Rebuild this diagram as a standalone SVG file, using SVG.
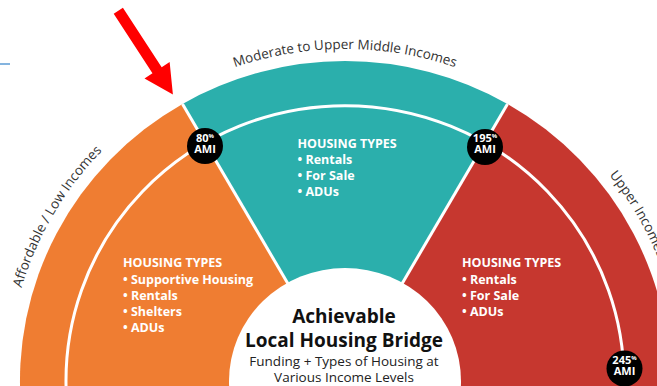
<svg xmlns="http://www.w3.org/2000/svg" width="657" height="386" viewBox="0 0 657 386">
<style>
.lbl{font-family:"Open Sans","Liberation Sans",sans-serif;font-size:13.5px;fill:#333}
.ht{font-family:"Open Sans","Liberation Sans",sans-serif;font-weight:bold;font-size:12.5px;fill:#fff}
.bt{font-family:"Open Sans","Liberation Sans",sans-serif;font-weight:bold;font-size:11px;fill:#fff;text-anchor:middle}
.sup{font-size:6px}
.sep{stroke:#fff;stroke-width:3;fill:none}
.title{font-family:"Open Sans","Liberation Sans",sans-serif;font-weight:bold;font-size:19px;fill:#111;text-anchor:middle}
.sub{font-family:"Open Sans","Liberation Sans",sans-serif;font-size:13.5px;fill:#222;text-anchor:middle}
</style>
<defs>
<path id="arcL" d="M8,381 A337,332 0 0 1 176.5,93.5"/>
<path id="arcM" d="M176.5,93.5 A337,332 0 0 1 513.5,93.5"/>
<path id="arcR" d="M513.5,93.5 A337,332 0 0 1 682,381"/>
</defs>
<rect width="657" height="386" fill="#fff"/>
<line x1="0" y1="64" x2="10" y2="64" stroke="#5b9bd5" stroke-width="1.5"/>
<g id="segment-low">
<path d="M345,381 L21.2,408.9 A325,320 0 0 1 182.5,103.9 Z" fill="#ef7d32"/>
</g>
<g id="segment-moderate">
<path d="M345,381 L182.5,103.9 A325,320 0 0 1 507.5,103.9 Z" fill="#2bafac"/>
</g>
<g id="segment-upper">
<path d="M345,381 L507.5,103.9 A325,320 0 0 1 668.8,408.9 Z" fill="#c6372f"/>
</g>
<g id="connectors">
<line class="sep" x1="345" y1="381" x2="182.5" y2="103.9"/>
<line class="sep" x1="345" y1="381" x2="507.5" y2="103.9"/>
<path class="sep" d="M66.4,395.4 A279,275 0 1 1 623.6,395.4"/>
</g>
<g id="center">
<ellipse cx="345" cy="381" rx="116" ry="113" fill="#fff"/>
<text class="title" x="344" y="323">Achievable</text>
<text class="title" x="344" y="347">Local Housing Bridge</text>
<text class="sub" x="344" y="366">Funding + Types of Housing at</text>
<text class="sub" x="344" y="382">Various Income Levels</text>
</g>
<g id="text-low">
<text class="ht" x="123" y="267">HOUSING TYPES</text>
<text class="ht" x="123" y="284">• Supportive Housing</text>
<text class="ht" x="123" y="300">• Rentals</text>
<text class="ht" x="123" y="316">• Shelters</text>
<text class="ht" x="123" y="332">• ADUs</text>
</g>
<g id="text-moderate">
<text class="ht" x="297.5" y="148">HOUSING TYPES</text>
<text class="ht" x="297.5" y="164">• Rentals</text>
<text class="ht" x="297.5" y="180">• For Sale</text>
<text class="ht" x="297.5" y="196">• ADUs</text>
</g>
<g id="text-upper">
<text class="ht" x="462" y="267">HOUSING TYPES</text>
<text class="ht" x="462" y="283.5">• Rentals</text>
<text class="ht" x="462" y="299.5">• For Sale</text>
<text class="ht" x="462" y="315.5">• ADUs</text>
</g>
<g id="badge-80">
<circle cx="205" cy="146" r="18" fill="#000"/>
<text class="bt"><tspan x="205" y="141.5">80<tspan class="sup" dy="-4">%</tspan></tspan><tspan x="205" y="153">AMI</tspan></text>
</g>
<g id="badge-195">
<circle cx="485" cy="147" r="18" fill="#000"/>
<text class="bt"><tspan x="485" y="141.5">195<tspan class="sup" dy="-4">%</tspan></tspan><tspan x="485" y="153.3">AMI</tspan></text>
</g>
<g id="badge-245">
<circle cx="624.5" cy="368.5" r="18" fill="#000"/>
<text class="bt"><tspan x="624.5" y="363.5">245<tspan class="sup" dy="-4">%</tspan></tspan><tspan x="624.5" y="375">AMI</tspan></text>
</g>
<g id="labels">
<text class="lbl"><textPath href="#arcL" startOffset="50%" text-anchor="middle">Affordable / Low Incomes</textPath></text>
<text class="lbl"><textPath href="#arcM" startOffset="50%" text-anchor="middle">Moderate to Upper Middle Incomes</textPath></text>
<text class="lbl"><textPath href="#arcR" startOffset="50%" text-anchor="middle">Upper Incomes</textPath></text>
</g>
<g id="arrow">
<polygon transform="translate(118.3,10.8) rotate(56.9)" points="0,-5.5 71,-5.5 71,-15 100,0 71,15 71,5.5 0,5.5" fill="#ff0000"/>
</g>
</svg>
